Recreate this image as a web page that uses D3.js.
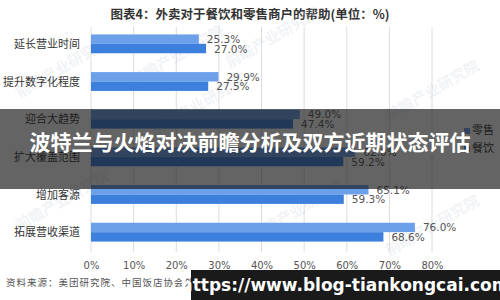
<!DOCTYPE html>
<html>
<head>
<meta charset="utf-8">
<script src="https://cdn.jsdelivr.net/npm/d3@7"></script>
<style>
  body { margin: 0; background: #fff; }
  svg { display: block; font-family: "Noto Sans CJK SC", "Noto Sans", sans-serif; }
</style>
</head>
<body>
<div id="chart"></div>
<script>
var categories = ["延长营业时间", "提升数字化程度", "迎合大趋势", "扩大覆盖范围", "增加客源", "拓展营收渠道"];
var seriesNames = ["零售", "餐饮"];
var retail = [25.3, 29.9, 49.0, 62.0, 65.1, 76.0];
var catering = [27.0, 27.5, 47.4, 59.2, 59.3, 68.6];
var ticks = [0, 10, 20, 30, 40, 50, 60, 70, 80];

var W = 500, H = 300;
var colors = ["#6ca1ea", "#3d7fdc"];

var svg = d3.select("#chart").append("svg")
    .attr("width", W)
    .attr("height", H);

// title
svg.append("text")
    .attr("x", 250).attr("y", 19)
    .attr("text-anchor", "middle")
    .attr("font-size", 12.5).attr("font-weight", "bold")
    .attr("fill", "#333")
    .text("图表4：外卖对于餐饮和零售商户的帮助(单位：%)");

var x = d3.scaleLinear().domain([0, 80]).range([91, 432]);
var y = d3.scaleBand().domain(categories).range([25, 251]).paddingInner(0.5).paddingOuter(0.25);
var sub = d3.scaleBand().domain(seriesNames).range([0, y.bandwidth()]);

// faint watermarks
var marks = [[65, 72], [180, 60], [275, 42], [435, 95], [300, 215], [435, 230], [65, 205], [200, 110]];
svg.append("g").selectAll("text").data(marks).enter().append("text")
    .attr("transform", function(d){return "translate(" + d[0] + "," + d[1] + ") rotate(-30)";})
    .attr("text-anchor", "middle")
    .attr("font-size", 15).attr("font-weight", "bold")
    .attr("fill", "#c3ccd8").attr("opacity", 0.22)
    .text("前瞻产业研究院");

// grid
svg.append("g").selectAll("line").data(ticks).enter().append("line")
    .attr("x1", function(d){return x(d);})
    .attr("x2", function(d){return x(d);})
    .attr("y1", 27).attr("y2", 252)
    .attr("stroke", "#dcdcdc").attr("stroke-width", 1);

// axis tick labels
var xAxis = svg.append("g")
    .attr("transform", "translate(0,252)")
    .call(d3.axisBottom(x).tickValues(ticks).tickSize(0).tickPadding(10)
        .tickFormat(function(d){return d + "%";}));
xAxis.select(".domain").remove();
xAxis.selectAll("text").attr("font-size", 10).attr("fill", "#555")
    .attr("font-family", "\"DejaVu Sans\", sans-serif");

// category labels
svg.append("g").selectAll("text").data(categories).enter().append("text")
    .attr("x", 80)
    .attr("y", function(d){return y(d) + y.bandwidth() / 2 + 4;})
    .attr("text-anchor", "end")
    .attr("font-size", 11).attr("fill", "#333")
    .text(function(d){return d;});

var rows = categories.map(function(c, i){
  return [{cat: c, s: seriesNames[0], v: retail[i]}, {cat: c, s: seriesNames[1], v: catering[i]}];
});
var flat = [].concat.apply([], rows);

svg.append("g").selectAll("rect").data(flat).enter().append("rect")
    .attr("x", x(0))
    .attr("y", function(d){return y(d.cat) + sub(d.s);})
    .attr("width", function(d){return x(d.v) - x(0);})
    .attr("height", sub.bandwidth())
    .attr("fill", function(d){return d.s === seriesNames[0] ? colors[0] : colors[1];});

svg.append("g").selectAll("text").data(flat).enter().append("text")
    .attr("x", function(d){return x(d.v) + 8;})
    .attr("y", function(d){return y(d.cat) + sub(d.s) + sub.bandwidth() / 2 + 4;})
    .attr("font-size", 10.5).attr("fill", "#555")
    .attr("font-family", "\"DejaVu Sans\", sans-serif")
    .text(function(d){return d.v.toFixed(1) + "%";});

// legend
var legend = svg.append("g").selectAll("g").data(seriesNames).enter().append("g")
    .attr("transform", function(d, i){return "translate(464," + (134 + i * 18) + ")";});
legend.append("rect").attr("x", 0).attr("y", -6).attr("width", 6).attr("height", 6)
    .attr("fill", function(d, i){return colors[i];});
legend.append("text").attr("x", 8).attr("y", 0)
    .attr("font-size", 11).attr("fill", "#333")
    .text(function(d){return d;});

// source
svg.append("text")
    .attr("x", 6).attr("y", 286)
    .attr("font-size", 9.5).attr("fill", "#555")
    .attr("letter-spacing", 1)
    .text("资料来源：美团研究院、中国饭店协会外卖专委会 前瞻产业研究院整理");

// overlay band
svg.append("rect")
    .attr("x", 0).attr("y", 109).attr("width", W).attr("height", 80)
    .attr("fill", "rgba(20,20,20,0.66)");
svg.append("text")
    .attr("x", 250).attr("y", 150)
    .attr("text-anchor", "middle")
    .attr("font-size", 21).attr("font-weight", "bold")
    .attr("fill", "#fff")
    .text("波特兰与火焰对决前瞻分析及双方近期状态评估");

// url box
svg.append("rect")
    .attr("x", 191).attr("y", 270).attr("width", 309).attr("height", 30)
    .attr("fill", "#1a1a1a");
svg.append("text")
    .attr("x", 345).attr("y", 291)
    .attr("text-anchor", "middle")
    .attr("font-size", 17).attr("font-weight", "bold")
    .attr("fill", "#fff")
    .attr("font-family", "\"DejaVu Sans\", sans-serif")
    .text("https://www.blog-tiankongcai.com");
</script>
</body>
</html>
